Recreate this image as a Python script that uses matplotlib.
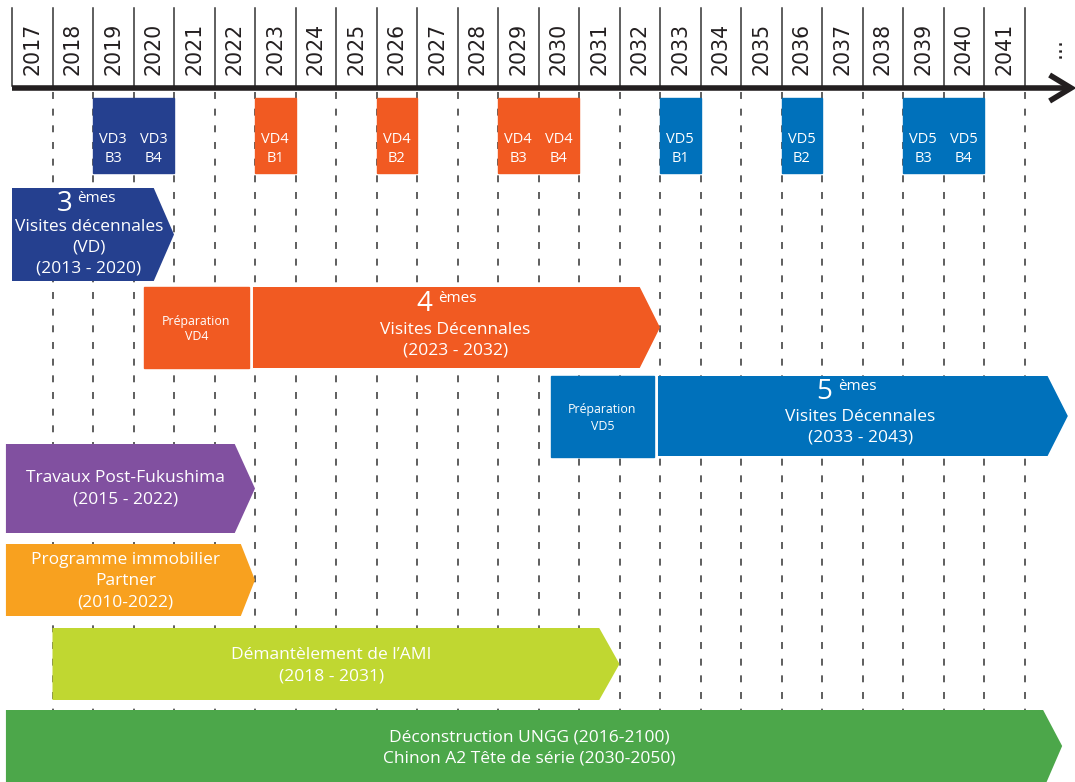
import matplotlib
matplotlib.use('Agg')
import matplotlib.pyplot as plt
from matplotlib.patches import Polygon, Rectangle

plt.rcParams['lines.scale_dashes'] = False

# timeline years (column labels)
years = list(range(2017, 2042))

# short outage boxes (one column each)
outage_labels = ['VD3\nB3', 'VD3\nB4', 'VD4\nB1', 'VD4\nB2', 'VD4\nB3', 'VD4\nB4',
                 'VD5\nB1', 'VD5\nB2', 'VD5\nB3', 'VD5\nB4']
outage_years = [2019, 2020, 2023, 2026, 2029, 2030, 2033, 2036, 2039, 2040]
outage_colors = ['#25408f'] * 2 + ['#f15a22'] * 4 + ['#0071bb'] * 4

# preparation boxes (start, end)
prep_labels = ['Préparation\nVD4', 'Préparation\nVD5']
prep_start = [2020.25, 2030.3]
prep_end = [2022.85, 2032.85]
prep_colors = ['#f15a22', '#0071bb']

# phase arrows (start, tip)
phase_labels = ['Visites décennales\n(VD)\n(2013 - 2020)',
                'Visites Décennales\n(2023 - 2032)',
                'Visites Décennales\n(2033 - 2043)',
                'Travaux Post-Fukushima\n(2015 - 2022)',
                'Programme immobilier\nPartner\n(2010-2022)',
                "Démantèlement de l’AMI\n(2018 - 2031)",
                'Déconstruction UNGG (2016-2100)\nChinon A2 Tête de série (2030-2050)']
phase_start = [2017.0, 2022.95, 2032.95, 2016.85, 2016.85, 2018.0, 2016.85]
phase_tip = [2021.0, 2033.0, 2043.07, 2023.0, 2023.0, 2032.0, 2042.93]
phase_colors = ['#25408f', '#f15a22', '#0071bb', '#8150a0', '#f8a11f', '#c0d731', '#4ca74a']
ordinals = ['3', '4', '5']

# layout (pixel rows)
phase_top = [188, 287, 376, 444, 544, 628, 710]
phase_bot = [281, 368, 456, 533, 616, 700, 782]
phase_notch = [0.5, 0.5, 0.5, 0.5, 0.35, 0.5, 0.47]

BOX_FONT = ['Open Sans', 'DejaVu Sans']
YEAR_FONT = ['Liberation Sans Narrow', 'DejaVu Sans Condensed', 'DejaVu Sans']

x0 = 2017 - 12 / 40.5
x1 = 2017 + 1063 / 40.5

fig = plt.figure(figsize=(10.75, 7.82), dpi=100)
ax = fig.add_axes([0, 0, 1, 1])
ax.set_xlim(x0, x1)
ax.set_ylim(782, 0)
ax.axis('off')

# grid lines
for b in range(2017, 2043):
    ax.plot([b, b], [8, 86], color='#333333', lw=1.1, zorder=1)
    if b > 2017:
        ax.plot([b, b], [92, 782], color='#333333', lw=1.1,
                dashes=(5, 7), zorder=1)

# year labels
for y in years:
    ax.text(y + 0.5, 49, str(y), rotation=90, ha='center', va='center',
            fontsize=14.8, family=YEAR_FONT, color='#231f20')
ax.text(2042.75, 48, '...', rotation=90, ha='center', va='center',
        fontsize=16, family=YEAR_FONT, color='#231f20')

# main axis arrow
ax.plot([2017, 2043.1], [88, 88], color='#231f20', lw=4, solid_capstyle='butt', zorder=3)
ax.plot([2042.62, 2043.15, 2042.62], [75, 88, 101], color='#231f20', lw=4,
        solid_capstyle='butt', solid_joinstyle='miter', zorder=3)

# outage boxes
for lab, yr, c in zip(outage_labels, outage_years, outage_colors):
    ax.add_patch(Rectangle((yr, 98), 1, 75, color=c, zorder=2))
    ax.text(yr + 0.5, 149, lab, ha='center', va='center', color='white',
            fontsize=10.5, family=BOX_FONT, linespacing=1.3, zorder=4)

# preparation boxes
for lab, s, e, c, top in zip(prep_labels, prep_start, prep_end, prep_colors, [287, 376]):
    ax.add_patch(Rectangle((s, top), e - s, 81, color=c, zorder=2))
    ax.text((s + e) / 2, top + 42, lab, ha='center', va='center', color='white',
            fontsize=8.9, family=BOX_FONT, linespacing=1.3, zorder=4)

# phase arrows
for i, (lab, s, t, c) in enumerate(zip(phase_labels, phase_start, phase_tip, phase_colors)):
    top, bot = phase_top[i], phase_bot[i]
    if i == 6:
        bot = 790
    mid = (phase_top[i] + phase_bot[i]) / 2
    b = t - phase_notch[i]
    ax.add_patch(Polygon([(s, top), (b, top), (t, mid), (b, bot), (s, bot)],
                         closed=True, color=c, zorder=2, lw=0))
    if i < 3:
        ty = [248, 340, 427][i]
        cx = [2018.9, 2027.95, 2037.95][i]
        ax.text(cx, ty, lab, ha='center', va='center', color='white',
                fontsize=12.5, family=BOX_FONT, linespacing=1.38, zorder=4)
        dx = [2018.5, 2027.37, 2037.25][i]
        dy = [204, 304, 392][i]
        ax.text(dx, dy, ordinals[i], ha='right', va='center', color='white',
                fontsize=20, family=BOX_FONT, zorder=4)
        ax.text(dx + (0.1 if i == 0 else 0.15), dy - 5, 'èmes', ha='left', va='center',
                color='white', fontsize=11, family=BOX_FONT, zorder=4)
    else:
        cx = (s + t) / 2 - 0.12
        ax.text(cx, mid + [0, 0, 0, 0, 1, 2, 2][i], lab, ha='center', va='center',
                color='white', fontsize=12.5, family=BOX_FONT,
                linespacing=1.42, zorder=4)

fig.savefig('out.png', dpi=100)
